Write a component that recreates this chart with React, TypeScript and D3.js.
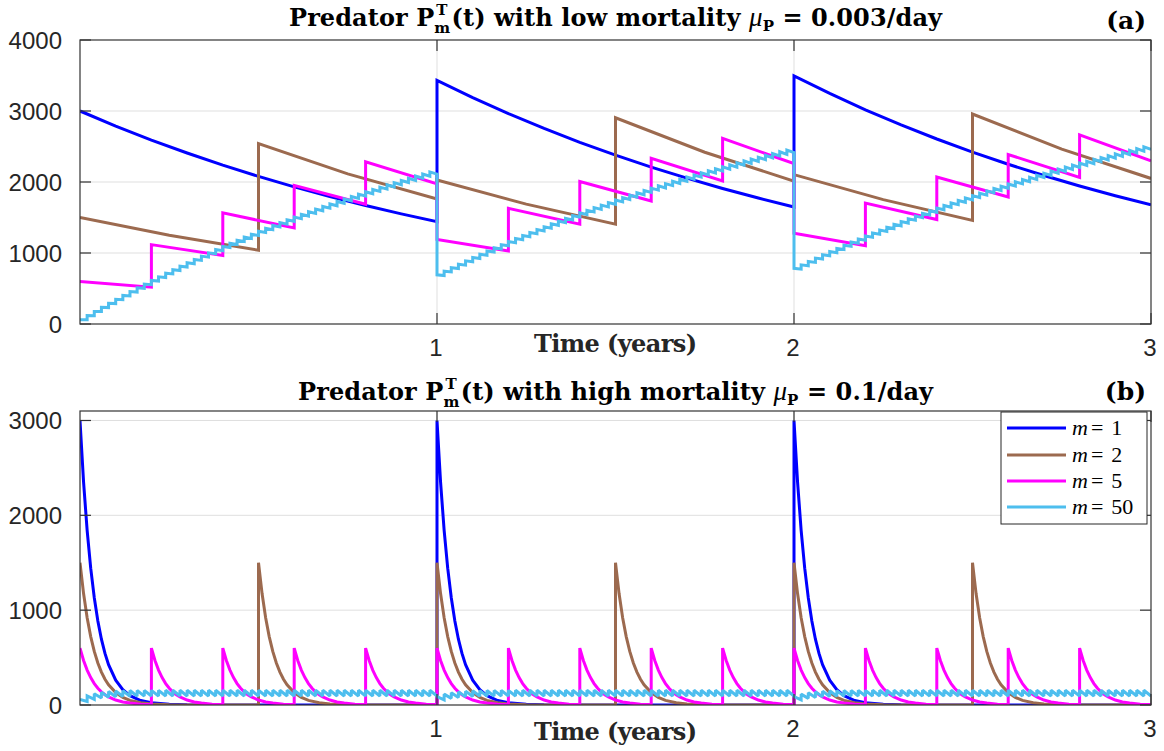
import React from "react";
import * as d3 from "d3";

type Pt = [number, number];

// ---------- shared ----------
const YEAR_TICKS = [1, 2, 3];
const Y_TICKS_A = [0, 1000, 2000, 3000, 4000];
const Y_TICKS_B = [0, 1000, 2000, 3000];
const M_VALUES = ["1", "2", "5", "50"];
const COLORS = ["#0000ff", "#9c6a4f", "#ff00ff", "#4dbeee"];

// ---------- panel (a): low mortality ----------
const A_M1: Pt[] = [
  [0, 3000], [0.1, 2788], [0.2, 2591], [0.3, 2408], [0.4, 2237], [0.5, 2079], [0.6, 1932], [0.7, 1796], [0.8, 1669], [0.9, 1551], [1, 1441],
  [1, 3432], [1.1, 3189], [1.2, 2964], [1.3, 2754], [1.4, 2559], [1.5, 2378], [1.6, 2210], [1.7, 2054], [1.8, 1909], [1.9, 1774], [2, 1648],
  [2, 3494], [2.1, 3247], [2.2, 3017], [2.3, 2804], [2.4, 2606], [2.5, 2421], [2.6, 2250], [2.7, 2091], [2.8, 1943], [2.9, 1806], [3, 1678],
];
const A_M2: Pt[] = [
  [0, 1500], [0.25, 1249], [0.5, 1040], [0.5, 2540], [0.75, 2114], [1, 1760],
  [1, 2028], [1.25, 1688], [1.5, 1405], [1.5, 2905], [1.75, 2419], [2, 2013],
  [2, 2104], [2.25, 1752], [2.5, 1458], [2.5, 2958], [2.75, 2463], [3, 2050],
];
const A_M5: Pt[] = [
  [0, 600], [0.2, 518], [0.2, 1118], [0.4, 966], [0.4, 1566], [0.6, 1352], [0.6, 1952], [0.8, 1686], [0.8, 2286], [1, 1974],
  [1, 1192], [1.2, 1030], [1.2, 1630], [1.4, 1407], [1.4, 2007], [1.6, 1733], [1.6, 2333], [1.8, 2015], [1.8, 2615], [2, 2258],
  [2, 1278], [2.2, 1103], [2.2, 1703], [2.4, 1471], [2.4, 2071], [2.6, 1788], [2.6, 2388], [2.8, 2063], [2.8, 2663], [3, 2299],
];
const A_M50_PEAKS = [
  60, 119, 177, 235, 291, 347, 402, 456, 510, 562, 614, 665, 715, 765, 814, 862, 909, 956, 1002, 1048, 1092, 1137, 1180, 1223, 1265,
  1307, 1348, 1388, 1428, 1467, 1506, 1544, 1581, 1618, 1655, 1691, 1726, 1761, 1795, 1829, 1862, 1895, 1928, 1960, 1991, 2022, 2053, 2083, 2112, 2142,
  693, 743, 793, 841, 889, 936, 982, 1028, 1073, 1117, 1161, 1204, 1247, 1288, 1330, 1370, 1410, 1450, 1489, 1527, 1565, 1602, 1639, 1675, 1710,
  1746, 1780, 1814, 1848, 1881, 1914, 1946, 1977, 2009, 2039, 2070, 2099, 2129, 2158, 2186, 2215, 2242, 2270, 2297, 2323, 2349, 2375, 2401, 2426, 2450,
  784, 833, 881, 928, 974, 1020, 1065, 1110, 1154, 1197, 1239, 1281, 1323, 1363, 1404, 1443, 1482, 1521, 1558, 1596, 1633, 1669, 1704, 1740, 1774,
  1808, 1842, 1875, 1908, 1940, 1972, 2003, 2034, 2065, 2094, 2124, 2153, 2182, 2210, 2238, 2265, 2292, 2319, 2345, 2371, 2396, 2422, 2446, 2471, 2495,
];
const A_M50_TROUGHS = [
  59, 117, 175, 231, 287, 342, 396, 450, 502, 554, 605, 655, 705, 754, 802, 849, 896, 942, 988, 1032, 1077, 1120, 1163, 1205, 1247,
  1288, 1328, 1368, 1407, 1446, 1484, 1521, 1558, 1595, 1631, 1666, 1701, 1735, 1769, 1802, 1835, 1868, 1900, 1931, 1962, 1993, 2023, 2052, 2082, 2111,
  683, 733, 781, 829, 876, 922, 968, 1013, 1057, 1101, 1144, 1187, 1228, 1270, 1310, 1350, 1390, 1429, 1467, 1505, 1542, 1579, 1615, 1650, 1686,
  1720, 1754, 1788, 1821, 1854, 1886, 1917, 1949, 1979, 2010, 2039, 2069, 2098, 2126, 2155, 2182, 2210, 2237, 2263, 2289, 2315, 2341, 2366, 2390, 2414,
  773, 821, 868, 914, 960, 1005, 1050, 1094, 1137, 1179, 1221, 1263, 1303, 1344, 1383, 1422, 1461, 1498, 1536, 1573, 1609, 1644, 1680, 1714, 1748,
  1782, 1815, 1848, 1880, 1912, 1943, 1974, 2005, 2034, 2064, 2093, 2122, 2150, 2178, 2205, 2232, 2259, 2285, 2311, 2336, 2362, 2386, 2411, 2435, 2459,
];

// ---------- panel (b): high mortality ----------
const B_M1_RELEASES = [0, 1, 2];
const B_M1_PROFILE: Pt[] = [
  [0, 3000], [0.01, 2350], [0.02, 1842], [0.03, 1443], [0.04, 1131], [0.05, 886], [0.06, 694], [0.07, 544], [0.08, 426],
  [0.1, 262], [0.12, 161], [0.14, 99], [0.17, 47], [0.2, 23], [0.25, 7], [0.3, 2], [0.5, 0], [1, 0],
];
const B_M2_RELEASES = [0, 0.5, 1, 1.5, 2, 2.5];
const B_M2_PROFILE: Pt[] = [
  [0, 1500], [0.01, 1175], [0.02, 921], [0.03, 721], [0.04, 565], [0.05, 443], [0.06, 347], [0.07, 272], [0.08, 213],
  [0.1, 131], [0.12, 80], [0.14, 49], [0.17, 24], [0.2, 11], [0.25, 3], [0.3, 1], [0.5, 0],
];
const B_M5_RELEASES = [0, 0.2, 0.4, 0.6, 0.8, 1, 1.2, 1.4, 1.6, 1.8, 2, 2.2, 2.4, 2.6, 2.8];
const B_M5_PROFILE: Pt[] = [
  [0, 600], [0.01, 470], [0.02, 368], [0.03, 289], [0.04, 226], [0.05, 177], [0.06, 139], [0.07, 109], [0.08, 85],
  [0.1, 52], [0.12, 32], [0.14, 20], [0.17, 9], [0.2, 5],
];
const B_M50_PEAKS_Y1 = [
  60, 96.8, 119.4, 133.3, 141.8, 147.1, 150.3, 152.3, 153.5, 154.2, 154.7, 155.0, 155.2, 155.3,
  155.4, 155.4, 155.4, 155.4, 155.4, 155.4, 155.4, 155.4, 155.4, 155.4, 155.4, 155.4,
  155.4, 155.4, 155.4, 155.4, 155.4, 155.4, 155.4, 155.4, 155.4, 155.4, 155.4, 155.4,
  155.4, 155.4, 155.4, 155.4, 155.4, 155.4, 155.4, 155.4, 155.4, 155.4, 155.4, 155.4,
];
const B_M50_TROUGHS_Y1 = [
  36.8, 59.4, 73.3, 81.8, 87.1, 90.3, 92.3, 93.5, 94.2, 94.7, 95.0, 95.2, 95.3, 95.4,
  95.4, 95.4, 95.4, 95.4, 95.4, 95.4, 95.4, 95.4, 95.4, 95.4, 95.4, 95.4,
  95.4, 95.4, 95.4, 95.4, 95.4, 95.4, 95.4, 95.4, 95.4, 95.4, 95.4, 95.4,
  95.4, 95.4, 95.4, 95.4, 95.4, 95.4, 95.4, 95.4, 95.4, 95.4, 95.4, 95.4,
];
const B_M50_PEAKS_Y2 = [
  88.6, 114.4, 130.2, 139.9, 145.9, 149.6, 151.8, 153.2, 154.1, 154.6, 155.0, 155.2, 155.3,
  155.4, 155.4, 155.4, 155.4, 155.4, 155.4, 155.4, 155.4, 155.4, 155.4, 155.4, 155.4,
  155.4, 155.4, 155.4, 155.4, 155.4, 155.4, 155.4, 155.4, 155.4, 155.4, 155.4, 155.4,
  155.4, 155.4, 155.4, 155.4, 155.4, 155.4, 155.4, 155.4, 155.4, 155.4, 155.4, 155.4, 155.4,
];
const B_M50_TROUGHS_Y2 = [
  54.4, 70.2, 79.9, 85.9, 89.6, 91.8, 93.2, 94.1, 94.6, 95.0, 95.2, 95.3, 95.4,
  95.4, 95.4, 95.4, 95.4, 95.4, 95.4, 95.4, 95.4, 95.4, 95.4, 95.4, 95.4,
  95.4, 95.4, 95.4, 95.4, 95.4, 95.4, 95.4, 95.4, 95.4, 95.4, 95.4, 95.4,
  95.4, 95.4, 95.4, 95.4, 95.4, 95.4, 95.4, 95.4, 95.4, 95.4, 95.4, 95.4, 95.4,
];
// year 3 repeats the year-2 pattern
const B_M50_PEAKS = [...B_M50_PEAKS_Y1, ...B_M50_PEAKS_Y2, ...B_M50_PEAKS_Y2];
const B_M50_TROUGHS = [...B_M50_TROUGHS_Y1, ...B_M50_TROUGHS_Y2, ...B_M50_TROUGHS_Y2];

// ---------- helpers ----------
const RELEASE_PERIOD_50 = 1 / 50;
function sawtooth(peaks: number[], troughs: number[], period: number): Pt[] {
  const times = d3.range(peaks.length).map((k) => k * period);
  return times.flatMap((t, k) => [[t, peaks[k]], [t + period, troughs[k]]] as Pt[]);
}
function repeatProfile(releases: number[], profile: Pt[]): Pt[] {
  return releases.flatMap((r) => profile.map(([o, v]) => [r + o, v] as Pt));
}

const SERIF = "'Liberation Serif', 'Times New Roman', serif";
const SERIF_BOLD = "'DejaVu Serif', 'Liberation Serif', serif";
const SANS = "'Liberation Sans', Arial, Helvetica, sans-serif";

const PLOT_LEFT = 80;
const PLOT_RIGHT = 1151;
const TICK_LEN = 11;

const x = d3.scaleLinear().domain([0, 3]).range([PLOT_LEFT, PLOT_RIGHT]);

type PanelCfg = {
  id: string;
  top: number;
  bottom: number;
  yMax: number;
  yTicks: number[];
  series: Pt[][];
  low: boolean;
  titleY: number;
  titleW: number;
  label: string;
  labelY: number;
  xTickY: number;
  xLabelY: number;
  legend: boolean;
};

function Title({ y, width, low }: { y: number; width: number; low: boolean }) {
  return (
    <text
      x={(PLOT_LEFT + PLOT_RIGHT) / 2}
      y={y}
      textAnchor="middle"
      fontFamily={SERIF_BOLD}
      fontWeight="bold"
      fontSize={24}
      fill="#000"
      textLength={width}
      lengthAdjust="spacing"
    >
      <tspan>{"Predator "}</tspan>
      <tspan>P</tspan>
      <tspan fontSize={15} dy={7}>m</tspan>
      <tspan fontSize={15} dx={-14} dy={-18}>T</tspan>
      <tspan dx={4} dy={11}>{"(t) with " + (low ? "low" : "high") + " mortality "}</tspan>
      <tspan fontFamily={SERIF} fontStyle="italic" fontWeight="normal" fontSize={27}>μ</tspan>
      <tspan fontSize={15} dy={5}>P</tspan>
      <tspan dy={-5}>{" = " + (low ? "0.003" : "0.1") + "/day"}</tspan>
    </text>
  );
}

function Panel({ cfg }: { cfg: PanelCfg }) {
  const y = d3.scaleLinear().domain([0, cfg.yMax]).range([cfg.bottom, cfg.top]);
  const line = d3
    .line<Pt>()
    .x((d) => x(d[0]))
    .y((d) => y(d[1]));
  const clipId = "clip-" + cfg.id;
  const axisColor = "#333";
  return (
    <g>
      <defs>
        <clipPath id={clipId}>
          <rect x={PLOT_LEFT} y={cfg.top} width={PLOT_RIGHT - PLOT_LEFT} height={cfg.bottom - cfg.top} />
        </clipPath>
      </defs>
      <rect x={PLOT_LEFT} y={cfg.top} width={PLOT_RIGHT - PLOT_LEFT} height={cfg.bottom - cfg.top} fill="#fff" />
      {/* grid */}
      {cfg.yTicks
        .filter((v) => v > 0 && y(v) > cfg.top + 1)
        .map((v) => (
          <line key={"gy" + v} x1={PLOT_LEFT} x2={PLOT_RIGHT} y1={y(v)} y2={y(v)} stroke="#dfdfdf" strokeWidth={1} />
        ))}
      {YEAR_TICKS.filter((t) => x(t) < PLOT_RIGHT - 1).map((t) => (
        <line key={"gx" + t} x1={x(t)} x2={x(t)} y1={cfg.top} y2={cfg.bottom} stroke="#dfdfdf" strokeWidth={1} />
      ))}
      {/* series */}
      <g clipPath={`url(#${clipId})`}>
        {cfg.series.map((pts, i) => (
          <path key={i} d={line(pts) || ""} fill="none" stroke={COLORS[i]} strokeWidth={3} strokeMiterlimit={2} />
        ))}
      </g>
      {/* frame */}
      <rect
        x={PLOT_LEFT}
        y={cfg.top}
        width={PLOT_RIGHT - PLOT_LEFT}
        height={cfg.bottom - cfg.top}
        fill="none"
        stroke={axisColor}
        strokeWidth={1.2}
      />
      {/* ticks */}
      {cfg.yTicks.map((v) => (
        <g key={"ty" + v}>
          <line x1={PLOT_LEFT} x2={PLOT_LEFT + TICK_LEN} y1={y(v)} y2={y(v)} stroke={axisColor} strokeWidth={1.2} />
          <line x1={PLOT_RIGHT} x2={PLOT_RIGHT - TICK_LEN} y1={y(v)} y2={y(v)} stroke={axisColor} strokeWidth={1.2} />
          <text x={62} y={y(v)} dy="0.36em" textAnchor="end" fontFamily={SANS} fontSize={24} fill="#262626">
            {v}
          </text>
        </g>
      ))}
      {YEAR_TICKS.map((t) => (
        <g key={"tx" + t}>
          <line x1={x(t)} x2={x(t)} y1={cfg.bottom} y2={cfg.bottom - TICK_LEN} stroke={axisColor} strokeWidth={1.2} />
          <line x1={x(t)} x2={x(t)} y1={cfg.top} y2={cfg.top + TICK_LEN} stroke={axisColor} strokeWidth={1.2} />
          <text x={x(t) - 1} y={cfg.xTickY} textAnchor="middle" fontFamily={SANS} fontSize={24} fill="#262626">
            {t}
          </text>
        </g>
      ))}
      {/* axis label */}
      <text
        x={(PLOT_LEFT + PLOT_RIGHT) / 2}
        y={cfg.xLabelY}
        textAnchor="middle"
        fontFamily={SERIF_BOLD}
        fontWeight="bold"
        fontSize={24}
        fill="#262626"
        textLength={163}
        lengthAdjust="spacing"
      >
        Time (years)
      </text>
      <Title y={cfg.titleY} width={cfg.titleW} low={cfg.low} />
      <text x={1146} y={cfg.labelY} textAnchor="end" fontFamily={SERIF_BOLD} fontWeight="bold" fontSize={25} fill="#000">
        {cfg.label}
      </text>
      {cfg.legend && <Legend />}
    </g>
  );
}

function Legend() {
  const left = 1001;
  const top = 412;
  const rowY = [428, 455, 481, 507];
  return (
    <g>
      <rect x={left} y={top} width={146} height={112} fill="#fff" stroke="#262626" strokeWidth={1} />
      {M_VALUES.map((m, i) => (
        <g key={m}>
          <line x1={1007} x2={1066} y1={rowY[i]} y2={rowY[i]} stroke={COLORS[i]} strokeWidth={3} />
          <text x={1072} y={rowY[i] + 7} fontFamily={SERIF} fontSize={22} fill="#000">
            <tspan fontStyle="italic">m</tspan>
            <tspan dx={3}>=</tspan>
            <tspan dx={8}>{m}</tspan>
          </text>
        </g>
      ))}
    </g>
  );
}

const PANEL_A: PanelCfg = {
  id: "a",
  top: 40,
  bottom: 324,
  yMax: 4000,
  yTicks: Y_TICKS_A,
  series: [A_M1, A_M2, A_M5, sawtooth(A_M50_PEAKS, A_M50_TROUGHS, RELEASE_PERIOD_50)],
  low: true,
  titleY: 26,
  titleW: 653,
  label: "(a)",
  labelY: 29,
  xTickY: 356,
  xLabelY: 352,
  legend: false,
};

const PANEL_B: PanelCfg = {
  id: "b",
  top: 411,
  bottom: 705,
  yMax: 3100,
  yTicks: Y_TICKS_B,
  series: [
    repeatProfile(B_M1_RELEASES, B_M1_PROFILE),
    repeatProfile(B_M2_RELEASES, B_M2_PROFILE),
    repeatProfile(B_M5_RELEASES, B_M5_PROFILE),
    sawtooth(B_M50_PEAKS, B_M50_TROUGHS, RELEASE_PERIOD_50),
  ],
  low: false,
  titleY: 400,
  titleW: 635,
  label: "(b)",
  labelY: 400,
  xTickY: 737,
  xLabelY: 740,
  legend: true,
};

export default function App() {
  return (
    <div style={{ position: "absolute", left: 0, top: 0, width: 1164, height: 751, background: "#fff" }}>
      <svg width={1164} height={751} style={{ display: "block" }}>
        <rect width={1164} height={751} fill="#fff" />
        <Panel cfg={PANEL_A} />
        <Panel cfg={PANEL_B} />
      </svg>
    </div>
  );
}
